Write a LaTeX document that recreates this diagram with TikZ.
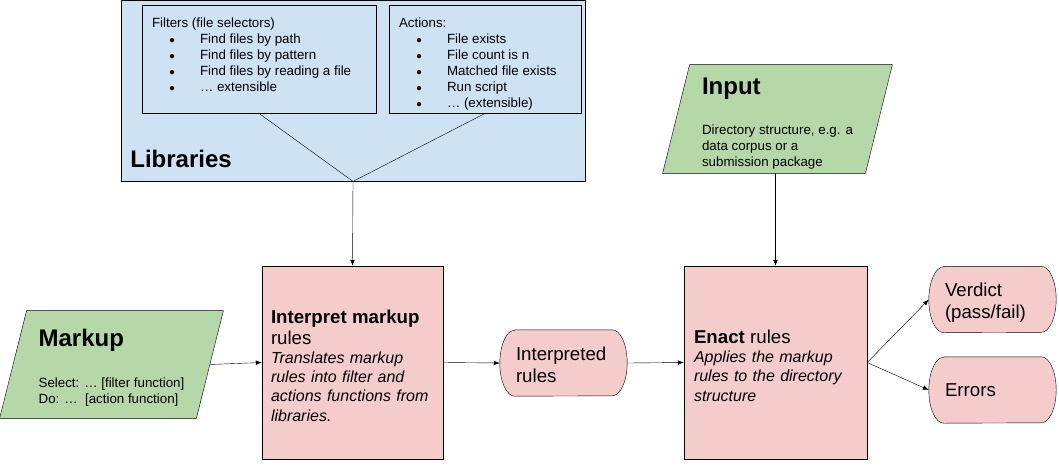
\documentclass[tikz,border=0pt]{standalone}
\usepackage{fontspec}
\setmainfont{Liberation Sans}
\usetikzlibrary{arrows.meta,backgrounds}

\definecolor{libblue}{HTML}{CFE2F3}
\definecolor{iogreen}{HTML}{B6D7A8}
\definecolor{rulepink}{HTML}{F4CCCC}

\newcommand{\headfont}{\fontsize{24}{28}\selectfont\bfseries}
\newcommand{\titlefont}{\fontsize{18.67}{21.5}\selectfont}
\newcommand{\descfont}{\fontsize{16}{19.2}\selectfont}
\newcommand{\smallfont}{\fontsize{13.33}{16}\selectfont}
\newcommand{\blt}{\hspace*{17pt}\makebox[31pt][l]{\fontsize{10}{10}\selectfont ●}}

% rounded ends of the terminal nodes
\newcommand{\termshape}[1]{%
	\begin{pgfonlayer}{background}
		\draw[fill=rulepink] ([xshift=15pt]#1.north west) -- ([xshift=-15pt]#1.north east)
			arc[start angle=90, end angle=-90, x radius=15pt, y radius=33pt]
			-- ([xshift=15pt]#1.south west)
			arc[start angle=270, end angle=90, x radius=15pt, y radius=33pt] -- cycle;
	\end{pgfonlayer}}

% slanted input shape
\newcommand{\ioshape}[1]{%
	\begin{pgfonlayer}{background}
		\draw[fill=iogreen] (#1.south west) -- ([xshift=27pt]#1.north west) -- (#1.north east)
			-- ([xshift=-27pt]#1.south east) -- cycle;
	\end{pgfonlayer}}

\tikzset{
	libbox/.style={draw, fill=libblue, inner sep=0pt},
	listtext/.style={font=\smallfont, align=left, inner sep=0pt, anchor=north west},
	iobox/.style={inner sep=0pt, align=left, font=\smallfont},
	stepbox/.style={draw, fill=rulepink, text width=163pt, inner xsep=9pt, inner ysep=0pt,
		minimum height=193pt, align=left, font=\descfont\itshape},
	termbox/.style={text width=95pt, inner xsep=16pt, inner ysep=0pt, minimum height=66pt,
		align=left, font=\titlefont},
}

\begin{document}
\begin{tikzpicture}[x=1pt, y=1pt, line width=0.8pt, >={Latex[length=6pt,width=4.5pt]}]
	\useasboundingbox (0,0) rectangle (1059,-466);

	% libraries with the two lists
	\node[libbox, minimum width=464pt, minimum height=181pt] (libs) at (353,-90.5) {};
	\node[libbox, minimum width=234pt, minimum height=108pt] (filters) at (259,-59) {};
	\node[libbox, minimum width=192pt, minimum height=108pt] (actions) at (485,-59) {};
	\node[listtext] (filterlist) at ([shift={(10pt,-13.3pt)}]filters.north west) {Filters (file selectors)\\
		\blt Find files by path\\ \blt Find files by pattern\\ \blt Find files by reading a file\\ \blt … extensible};
	\node[listtext] (actionlist) at ([shift={(10pt,-13.3pt)}]actions.north west) {Actions:\\
		\blt File exists\\ \blt File count is n\\ \blt Matched file exists\\ \blt Run script\\ \blt … (extensible)};
	\node[font=\headfont, inner sep=0pt, anchor=base west] (libtitle) at (130,-167) {Libraries};

	% inputs
	\node[iobox, minimum width=223pt, minimum height=107pt] (markup) at (111.5,-364.5)
		{{\headfont\rule{0pt}{23.5pt}Markup}\\[25pt] Select: … [filter function]\\ Do: …\ \ [action function]};
	\node[iobox, minimum width=229pt, minimum height=108pt] (input) at (777.5,-119)
		{{\headfont\rule{0pt}{25.5pt}Input}\\[24pt] Directory structure, e.g. a\\ data corpus or a\\ submission package};
	\ioshape{markup}
	\ioshape{input}

	% processing steps
	\node[stepbox, minimum width=181pt] (interp) at (352.5,-362.5)
		{{\titlefont\upshape\bfseries\rule{0pt}{19.6pt}Interpret markup}\\[1.8pt] {\titlefont\upshape rules}\\ Translates markup\\ rules into filter and\\ actions functions from\\ libraries.};
	\node[stepbox, minimum width=183pt] (enact) at (775.5,-362.5)
		{{\titlefont\upshape\rule{0pt}{19.6pt}\textbf{Enact} rules}\\ Applies the markup\\ rules to the directory\\ structure};

	\node[termbox] (interpreted) at (563.5,-363) {\rule{0pt}{17pt}Interpreted\\ rules};
	\node[termbox] (verdict) at (992.5,-299.5) {\rule{0pt}{19.6pt}Verdict\\ (pass/fail)};
	\node[termbox] (errors) at (992.5,-390) {Errors};
	\termshape{interpreted}
	\termshape{verdict}
	\termshape{errors}

	% connectors
	\draw (filters.south) -- (libs.south);
	\draw (actions.south) -- (libs.south);
	\draw[->] (libs.south) -- (interp.north);
	\draw[->] (enact.north |- input.south) -- (enact.north);
	\draw[->] ([xshift=-13.5pt]markup.east) -- (interp.west);
	\draw[->] (interp.east) -- (interpreted.west);
	\draw[->] (interpreted.east) -- (enact.west);
	\draw[->] (enact.east) -- (verdict.west);
	\draw[->] (enact.east) -- (errors.west);
\end{tikzpicture}
\end{document}
